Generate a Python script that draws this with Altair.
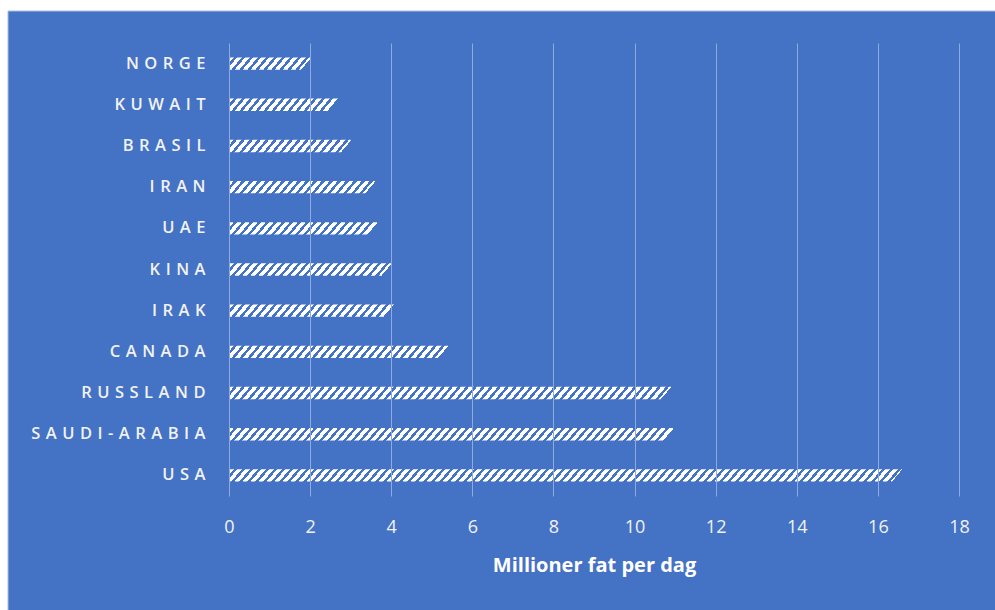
import altair as alt
import pandas as pd

countries = ["NORGE", "KUWAIT", "BRASIL", "IRAN", "UAE", "KINA", "IRAK",
             "CANADA", "RUSSLAND", "SAUDI-ARABIA", "USA"]
values = [2.0, 2.7, 3.0, 3.6, 3.7, 4.0, 4.1, 5.4, 10.9, 11.0, 16.6]
x_ticks = [0, 2, 4, 6, 8, 10, 12, 14, 16, 18]
x_title = "Millioner fat per dag"

BLUE = "#4472C4"
W, H = 730, 453
PX = W / 18.0
BAR_H = H / len(countries) * 0.3
FONT = "Open Sans"


def stripes(value):
    w = value * PX
    s = 0.85
    y2 = s * BAR_H / w
    D = w * (1 + y2 * y2)
    P, on = 8.0, 4.8
    stops = []
    k = 0
    while k * P < w + s * BAR_H:
        a = round(min(k * P / D, 1), 5)
        b = round(min((k * P + on) / D, 1), 5)
        c = round(min((k + 1) * P / D, 1), 5)
        stops += [alt.GradientStop(offset=a, color="white"),
                  alt.GradientStop(offset=b, color="white"),
                  alt.GradientStop(offset=b, color=BLUE),
                  alt.GradientStop(offset=c, color=BLUE)]
        k += 1
    return alt.LinearGradient(gradient="linear", stops=stops,
                              x1=0, y1=0, x2=1, y2=round(y2, 6))


df = pd.DataFrame({"country": countries, "value": values})

x_enc = alt.X("value:Q",
              scale=alt.Scale(domain=[0, 18], nice=False),
              axis=alt.Axis(values=x_ticks, title=x_title, grid=True,
                            gridColor="#8FAADC", gridWidth=1, domain=False,
                            ticks=False, labelFlush=False,
                            labelColor="#F2F2F2", labelFontSize=18,
                            labelPadding=22, labelFont=FONT, titleFont=FONT,
                            titleColor="white", titleFontSize=20,
                            titleFontWeight="bold", titlePadding=19, zindex=1))
y_enc = alt.Y("country:N", sort=countries,
              scale=alt.Scale(domain=countries, paddingInner=0.7, paddingOuter=0.35),
              axis=alt.Axis(title=None, domain=False, ticks=False,
                            labelColor="#F2F2F2", labelFontSize=16.5, labelFont=FONT,
                            labelFontWeight=600, labelPadding=24,
                            labelExpr="join(split(datum.label, ''), '\u2004')",
                            zindex=1))

bg = alt.Chart(alt.Data(values=[{"a": 1}])).mark_rect(
    fill=BLUE, stroke="#A9BDE3", strokeWidth=1
).encode(x=alt.value(-221), x2=alt.value(770), y=alt.value(-32), y2=alt.value(572))

base = alt.Chart(df).encode(x=x_enc, y=y_enc)
layers = [bg]
for c, v in zip(countries, values):
    layers.append(base.transform_filter(alt.datum.country == c).mark_bar(fill=stripes(v)))

chart = alt.layer(*layers).properties(
    width=W, height=H,
    autosize=alt.AutoSizeParams(type="none"),
    padding={"left": 229, "top": 43, "right": 36, "bottom": 114},
    background="white",
).configure_view(stroke=None)

chart.save("out.html", embed_options={"renderer": "svg", "actions": False})
